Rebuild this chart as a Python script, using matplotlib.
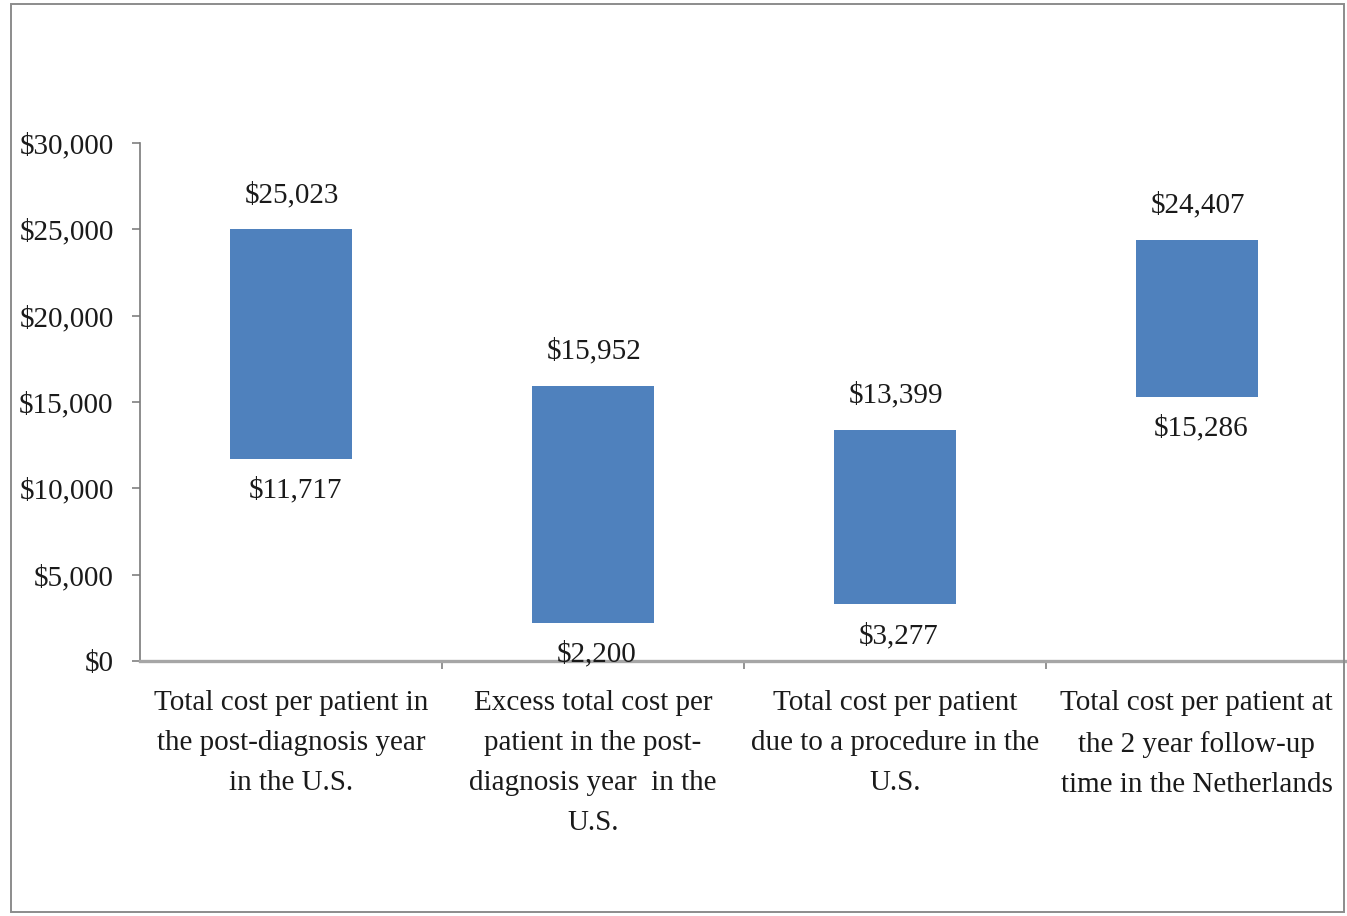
import matplotlib
matplotlib.use("Agg")
import matplotlib.pyplot as plt
from matplotlib.patches import Rectangle
from matplotlib.ticker import FuncFormatter

plt.rcParams["font.family"] = ["Liberation Serif", "DejaVu Serif"]

# cost ranges per patient (low / high estimate)
categories = [
    "Total cost per patient in\nthe post-diagnosis year\nin the U.S.",
    "Excess total cost per\npatient in the post-\ndiagnosis year  in the\nU.S.",
    "Total cost per patient\ndue to a procedure in the\nU.S.",
    "Total cost per patient at\nthe 2 year follow-up\ntime in the Netherlands",
]
low = [11717, 2200, 3277, 15286]
high = [25023, 15952, 13399, 24407]

BAR_COLOR = "#4f81bd"
TEXT_COLOR = "#1a1a1a"
FS = 21

fig = plt.figure(figsize=(13.47, 9.16), dpi=100)
ax = fig.add_axes([0.104, 0.2784, 0.8965, 0.5655])

x = list(range(len(categories)))
heights = [h - l for l, h in zip(low, high)]
ax.bar(x, heights, bottom=low, width=0.405, color=BAR_COLOR, zorder=2)

for xi, lo, hi in zip(x, low, high):
    ax.annotate(f"${hi:,}", (xi, hi), xytext=(1, 15), textcoords="offset points",
                ha="center", va="bottom", fontsize=FS, color=TEXT_COLOR)
    ax.annotate(f"${lo:,}", (xi, lo), xytext=(3, -13), textcoords="offset points",
                ha="center", va="top", fontsize=FS, color=TEXT_COLOR)

ax.set_xlim(-0.5, len(categories) - 0.5)
ax.set_ylim(0, 30000)
ax.set_yticks(range(0, 30001, 5000))
ax.yaxis.set_major_formatter(FuncFormatter(lambda v, _: f"${v:,.0f}"))

# category separators as major ticks, labels on minor ticks at the centres
ax.set_xticks([i + 0.5 for i in range(len(categories) - 1)])
ax.set_xticklabels([])
ax.set_xticks(x, minor=True)
ax.set_xticklabels(categories, minor=True, fontsize=FS, color=TEXT_COLOR,
                   linespacing=1.7)
ax.tick_params(axis="x", which="minor", length=0, pad=21)
ax.tick_params(axis="x", which="major", length=6, width=1.2, color="#808080",
               direction="out")
ax.tick_params(axis="y", length=6, width=1.2, color="#808080", labelsize=FS,
               labelcolor=TEXT_COLOR, pad=13)

for side in ("top", "right"):
    ax.spines[side].set_visible(False)
ax.spines["left"].set_color("#7a7a7a")
ax.spines["left"].set_linewidth(1.2)
ax.spines["bottom"].set_color("#a6a6a6")
ax.spines["bottom"].set_linewidth(2.4)

# thin frame round the whole figure
fig.patches.append(Rectangle((0.008, 0.004), 0.99, 0.992, transform=fig.transFigure,
                             fill=False, edgecolor="#8c8c8c", linewidth=1.4))

fig.savefig("out.png", dpi=100)
